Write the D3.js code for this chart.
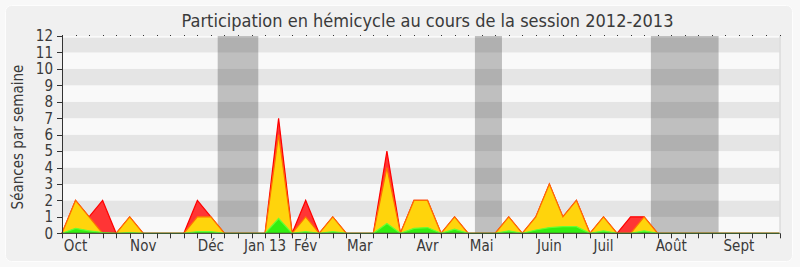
<!DOCTYPE html>
<html>
<head>
<meta charset="utf-8">
<script src="https://cdn.jsdelivr.net/npm/d3@7"></script>
<style>
  body { margin: 0; background: #f8f8f8; }
  text { font-family: "DejaVu Sans Condensed", "DejaVu Sans", sans-serif; font-stretch: condensed; fill: #3a3a3a; }
</style>
</head>
<body>
<div id="chart"></div>
<script>
// weekly values, week 0 = end of september 2012
const presences      = [0, 2, 1, 2, 0, 1, 0, 0, 0, 0, 2, 1, 0, 0, 0, 0, 7, 0, 2, 0, 1, 0, 0, 0, 5, 0, 2, 2, 0, 1, 0, 0, 0, 1, 0, 1, 3, 1, 2, 0, 1, 0, 1, 1, 0, 0, 0, 0, 0, 0, 0, 0, 0, 0];
const participations = [0, 2, 1, 0, 0, 1, 0, 0, 0, 0, 1, 1, 0, 0, 0, 0, 6, 0, 1, 0, 1, 0, 0, 0, 4, 0, 2, 2, 0, 1, 0, 0, 0, 1, 0, 1, 3, 1, 2, 0, 1, 0, 0, 1, 0, 0, 0, 0, 0, 0, 0, 0, 0, 0];
const interventions  = [0, 0.3, 0.15, 0.05, 0, 0.05, 0, 0, 0, 0, 0.1, 0.1, 0, 0, 0, 0, 0.9, 0, 0.1, 0, 0.1, 0, 0, 0, 0.6, 0, 0.3, 0.35, 0, 0.25, 0, 0, 0, 0.15, 0, 0.2, 0.35, 0.4, 0.4, 0, 0.15, 0, 0, 0.15, 0, 0, 0, 0, 0, 0, 0, 0, 0, 0];

const monthLabels = ['Oct', 'Nov', 'Déc', 'Jan 13', 'Fév', 'Mar', 'Avr', 'Mai', 'Juin', 'Juil', 'Août', 'Sept'];
const monthWeeks  = [1, 6, 11, 15, 18, 22, 27, 31, 36, 40, 45, 50];

const vacationStart = [11.5, 30.5, 43.5];
const vacationEnd   = [14.5, 32.5, 48.5];

const yTicks = d3.range(0, 13);

const width = 800;
const height = 267;
const plot = { left: 62, right: 779.5, top: 36, bottom: 233.3 };

const svg = d3.select('#chart')
  .append('svg')
  .attr('width', width)
  .attr('height', height);

// frame
svg.append('rect')
  .attr('x', 5.5).attr('y', 5.5)
  .attr('width', 787).attr('height', 256)
  .attr('rx', 6)
  .attr('fill', '#f0f0f0')
  .attr('stroke', '#fdfdfd');

const x = d3.scaleLinear()
  .domain([0, presences.length - 1])
  .range([plot.left, plot.right]);

const y = d3.scaleLinear()
  .domain([0, 12])
  .range([plot.bottom, plot.top]);

// background stripes
svg.append('rect')
  .attr('x', plot.left).attr('y', plot.top)
  .attr('width', plot.right - plot.left).attr('height', plot.bottom - plot.top)
  .attr('fill', '#fafafa');

svg.append('g')
  .selectAll('rect')
  .data(yTicks.slice(0, -1))
  .join('rect')
  .attr('x', plot.left)
  .attr('y', d => y(d + 1) + (d === 11 ? 1.7 : 0))
  .attr('width', plot.right - plot.left)
  .attr('height', d => y(d) - y(d + 1) - (d === 11 ? 1.7 : 0))
  .attr('fill', d => d % 2 ? '#e5e5e5' : '#f9f9f9');

// holidays
svg.append('g')
  .selectAll('rect')
  .data(vacationStart)
  .join('rect')
  .attr('x', d => x(d))
  .attr('y', plot.top)
  .attr('width', (d, i) => x(vacationEnd[i]) - x(d))
  .attr('height', plot.bottom - plot.top)
  .attr('fill', '#000')
  .attr('fill-opacity', 0.23);

const area = d3.area()
  .x((d, i) => x(i))
  .y0(y(0))
  .y1(d => y(d));

const line = d3.line()
  .x((d, i) => x(i))
  .y(d => y(d));

const series = [
  { values: presences, fill: '#ff3535', stroke: '#ff0000' },
  { values: participations, fill: '#ffd40c', stroke: '#ff7000' },
  { values: interventions, fill: '#33ee11', stroke: '#66ff33' },
];

series.forEach(s => {
  svg.append('path')
    .datum(s.values)
    .attr('d', area)
    .attr('fill', s.fill);
  svg.append('path')
    .datum(s.values)
    .attr('d', line)
    .attr('fill', 'none')
    .attr('stroke', s.stroke)
    .attr('stroke-width', 1.2);
});

// right border
svg.append('line')
  .attr('x1', plot.right + 0.5).attr('x2', plot.right + 0.5)
  .attr('y1', plot.top).attr('y2', plot.bottom)
  .attr('stroke', '#d0d0d0');

// x axis
const weeks = d3.range(presences.length);

svg.append('line')
  .attr('x1', plot.left).attr('x2', plot.right)
  .attr('y1', plot.bottom).attr('y2', plot.bottom)
  .attr('stroke', '#333');

svg.append('g')
  .selectAll('line')
  .data(weeks)
  .join('line')
  .attr('x1', d => Math.round(x(d)) + 0.5)
  .attr('x2', d => Math.round(x(d)) + 0.5)
  .attr('y1', plot.bottom)
  .attr('y2', plot.bottom + 5)
  .attr('stroke', '#333');

svg.append('g')
  .selectAll('rect')
  .data(weeks)
  .join('rect')
  .attr('x', d => Math.round(x(d)))
  .attr('y', plot.top - 1)
  .attr('width', 1)
  .attr('height', 1)
  .attr('fill', '#333');

svg.append('g')
  .selectAll('text')
  .data(monthLabels)
  .join('text')
  .attr('x', (d, i) => x(monthWeeks[i]))
  .attr('y', 251)
  .attr('text-anchor', 'middle')
  .style('font-size', '15px')
  .text(d => d);

// y axis
svg.append('line')
  .attr('x1', plot.left + 0.5).attr('x2', plot.left + 0.5)
  .attr('y1', plot.top).attr('y2', plot.bottom)
  .attr('stroke', '#333');

svg.append('g')
  .selectAll('line')
  .data(yTicks)
  .join('line')
  .attr('x1', plot.left - 5)
  .attr('x2', plot.left)
  .attr('y1', d => Math.round(y(d)) + 0.5)
  .attr('y2', d => Math.round(y(d)) + 0.5)
  .attr('stroke', '#333');

svg.append('g')
  .selectAll('text')
  .data(yTicks)
  .join('text')
  .attr('x', 53)
  .attr('y', d => y(d))
  .attr('dy', '0.36em')
  .attr('text-anchor', 'end')
  .style('font-size', '15px')
  .text(d => d);

svg.append('text')
  .attr('transform', 'translate(23,137) rotate(-90)')
  .attr('text-anchor', 'middle')
  .style('font-size', '15px')
  .text('Séances par semaine');

svg.append('text')
  .attr('x', 427.5)
  .attr('y', 27)
  .attr('text-anchor', 'middle')
  .style('font-size', '18px')
  .text('Participation en hémicycle au cours de la session 2012-2013');
</script>
</body>
</html>
